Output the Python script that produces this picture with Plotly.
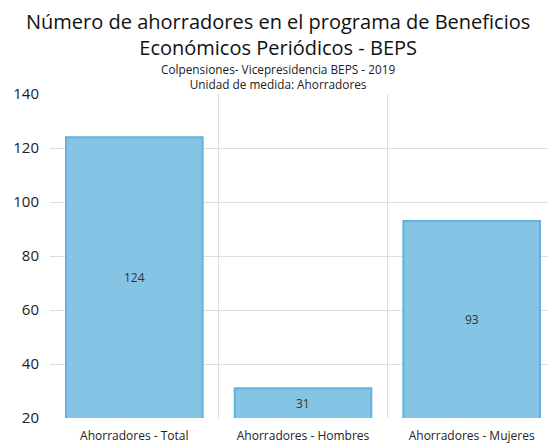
import plotly.graph_objects as go

categories = ["Ahorradores - Total", "Ahorradores - Hombres", "Ahorradores - Mujeres"]
values = [124, 31, 93]
y_ticks = [20, 40, 60, 80, 100, 120, 140]

title_lines = ["Número de ahorradores en el programa de Beneficios", "Económicos Periódicos - BEPS"]
subtitle_lines = ["Colpensiones- Vicepresidencia BEPS - 2019", "Unidad de medida: Ahorradores"]

FONT = "Open Sans"
y_min, y_max = 20, 140

W, H = 548, 435
ML, MR, MT, MB = 42, 0, 86, 25
# horizontal centre of the page, expressed in plot-area (paper) units
title_x = (W / 2 - 4 - ML) / (W - ML - MR)

fig = go.Figure()
fig.add_trace(go.Bar(
    x=categories,
    y=values,
    marker=dict(color="#85C4E4", line=dict(color="#62B3DC", width=2)),
    hoverinfo="x+y",
))

annotations = []
for c, v in zip(categories, values):
    annotations.append(dict(
        x=c, y=(y_min + v) / 2, xref="x", yref="y",
        text=str(v), showarrow=False,
        font=dict(family=FONT, size=12, color="#333333"),
    ))

def head(lines, yshift, size, color):
    return dict(x=title_x, xref="paper", yref="paper", y=1.0, yanchor="middle", xanchor="center",
                yshift=yshift, text="<br>".join(lines), showarrow=False, align="center",
                font=dict(family=FONT, size=size, color=color))

annotations.append(head(title_lines, 59.5, 20, "#111111"))
annotations.append(head(subtitle_lines, 17.5, 11.8, "#222222"))

fig.update_layout(
    width=W, height=H,
    margin=dict(l=ML, r=MR, t=MT, b=MB),
    paper_bgcolor="white", plot_bgcolor="white",
    showlegend=False,
    bargap=0.19,
    annotations=annotations,
    xaxis=dict(
        type="category",
        tickson="boundaries",
        showgrid=True, gridcolor="#DDDDDD", gridwidth=1,
        ticks="", ticklabelstandoff=9,
        showline=False, zeroline=False, automargin=False,
        tickfont=dict(family=FONT, size=12, color="#222222"),
    ),
    yaxis=dict(
        range=[y_min, y_max],
        tickvals=y_ticks,
        showgrid=True, gridcolor="#DDDDDD", gridwidth=1,
        zeroline=False, showline=False, automargin=False,
        ticks="outside", ticklen=7, tickcolor="rgba(0,0,0,0)",
        tickfont=dict(family=FONT, size=15, color="#222222"),
    ),
)

fig.write_html("out.html")
